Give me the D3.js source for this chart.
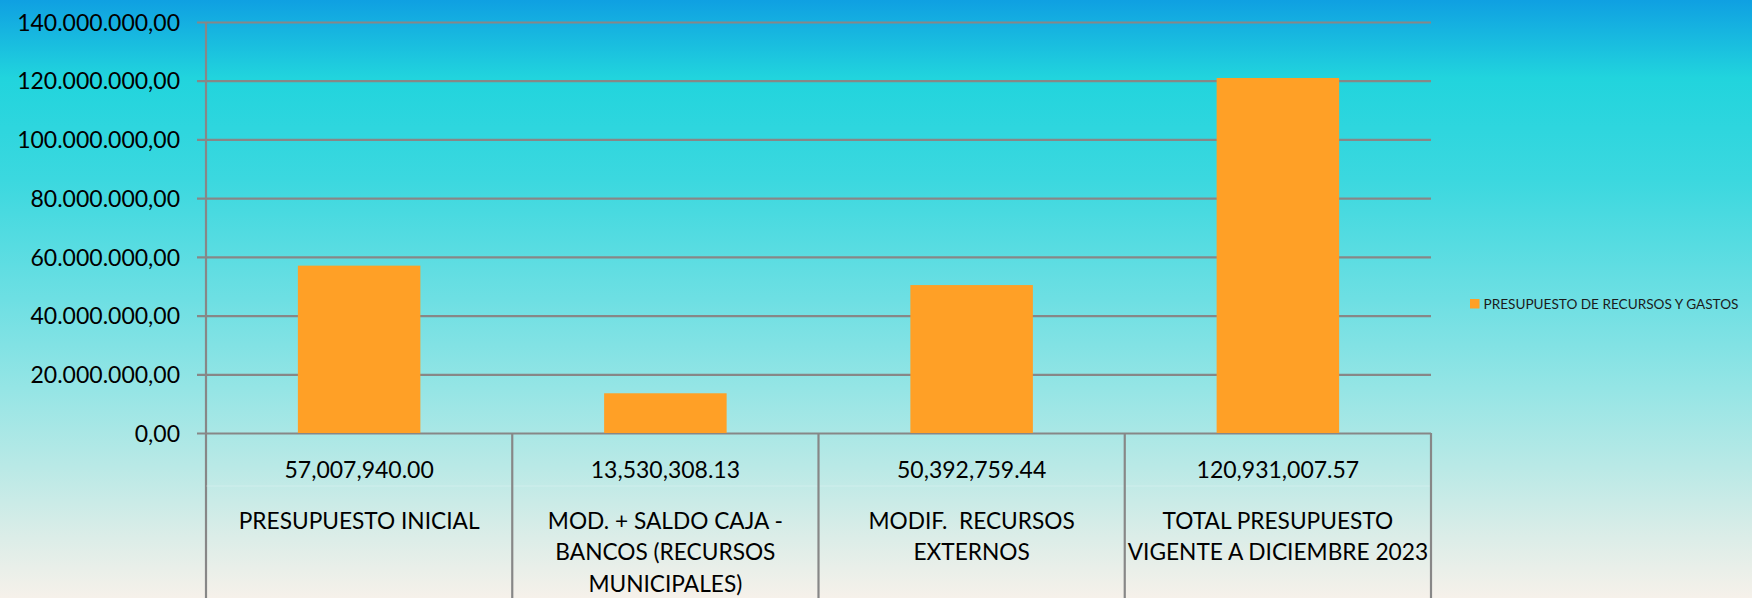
<!DOCTYPE html>
<html>
<head>
<meta charset="utf-8">
<title>Presupuesto de recursos y gastos</title>
<script src="https://d3js.org/d3.v7.min.js"></script>
<style>
  html, body { margin: 0; padding: 0; overflow: hidden; }
  text { font-family: Lato, "Open Sans", sans-serif; }
</style>
</head>
<body>
<div id="chart"></div>
<script>
// data
const categories = ["PRESUPUESTO INICIAL", "MOD. + SALDO CAJA - BANCOS (RECURSOS MUNICIPALES)", "MODIF.  RECURSOS EXTERNOS", "TOTAL PRESUPUESTO VIGENTE A DICIEMBRE 2023"];
const categoryLines = [
  ["PRESUPUESTO INICIAL"],
  ["MOD. + SALDO CAJA -", "BANCOS (RECURSOS", "MUNICIPALES)"],
  ["MODIF.  RECURSOS", "EXTERNOS"],
  ["TOTAL PRESUPUESTO", "VIGENTE A DICIEMBRE 2023"]
];
const values = [57007940.00, 13530308.13, 50392759.44, 120931007.57];
const yTicks = [0, 20000000, 40000000, 60000000, 80000000, 100000000, 120000000, 140000000];
const seriesName = "PRESUPUESTO DE RECURSOS Y GASTOS";

const W = 1752, H = 598;
const margin = {top: 22, right: 321, bottom: 165, left: 206};
const width = W - margin.left - margin.right,
      height = H - margin.top - margin.bottom;

const svg = d3.select("#chart").append("svg")
  .attr("width", W).attr("height", H);

// background gradient
const grad = svg.append("defs").append("linearGradient")
  .attr("id", "bg").attr("x1", 0).attr("y1", 0).attr("x2", 0).attr("y2", 1);
[[0, "#0fa0e2"], [0.13, "#21d4dd"], [0.3, "#3bd8df"], [0.5, "#6ddfe3"], [0.65, "#95e5e5"],
 [0.78, "#b9e9e6"], [0.9, "#dcede8"], [1, "#f6f1ea"]].forEach(s => {
  grad.append("stop").attr("offset", s[0]).attr("stop-color", s[1]);
});
svg.append("rect").attr("width", W).attr("height", H).attr("fill", "url(#bg)");

const g = svg.append("g").attr("transform", `translate(${margin.left},${margin.top})`);

const x = d3.scaleBand().domain(categories).range([0, width]).paddingInner(0.6).paddingOuter(0.3);
const y = d3.scaleLinear().domain([0, 140000000]).range([height, 0]);

const esFmt = d3.formatLocale({decimal: ",", thousands: ".", grouping: [3], currency: ["", ""]}).format(",.2f");
const enFmt = d3.format(",.2f");
const gridColor = "#878787";

// gridlines + y axis
const yAxis = g.append("g")
  .call(d3.axisLeft(y).tickValues(yTicks).tickFormat(esFmt).tickSize(-width).tickPadding(17));
yAxis.select(".domain").remove();
yAxis.selectAll(".tick line")
  .attr("x1", -9).attr("x2", width)
  .attr("stroke", gridColor).attr("stroke-width", 2.2);
yAxis.selectAll(".tick text")
  .attr("x", -26).attr("dy", "0.36em")
  .attr("font-size", 23).attr("fill", "#000");

// bars
g.append("g").selectAll("rect")
  .data(values)
  .join("rect")
    .attr("x", (d, i) => x(categories[i]))
    .attr("y", d => y(d))
    .attr("width", x.bandwidth())
    .attr("height", d => y(0) - y(d))
    .attr("fill", "#ffa026");

// vertical axis line (runs through table)
g.append("line")
  .attr("x1", 0).attr("x2", 0).attr("y1", 0).attr("y2", H - margin.top)
  .attr("stroke", gridColor).attr("stroke-width", 2.2);

// data table under the axis
const step = x.step();
const table = g.append("g").attr("transform", `translate(0,${height})`);
table.append("line")
  .attr("x1", 0).attr("x2", width).attr("y1", 53).attr("y2", 53)
  .attr("stroke", "#ffffff").attr("stroke-opacity", 0.25).attr("stroke-width", 1);
table.selectAll("line.sep")
  .data(categories)
  .join("line")
    .attr("class", "sep")
    .attr("x1", (d, i) => (i + 1) * step).attr("x2", (d, i) => (i + 1) * step)
    .attr("y1", 0).attr("y2", margin.bottom)
    .attr("stroke", gridColor).attr("stroke-width", 2.2);

const cells = table.selectAll("g.cell")
  .data(categories)
  .join("g")
    .attr("class", "cell")
    .attr("transform", d => `translate(${x(d) + x.bandwidth() / 2},0)`);

cells.append("text")
  .attr("text-anchor", "middle")
  .attr("y", 44.5)
  .attr("font-size", 23)
  .attr("fill", "#000")
  .text((d, i) => enFmt(values[i]));

cells.each(function(d, i) {
  d3.select(this).selectAll("text.lab")
    .data(categoryLines[i])
    .join("text")
      .attr("class", "lab")
      .attr("text-anchor", "middle")
      .attr("y", (t, j) => 95.5 + j * 31.8)
      .attr("font-size", 22.7)
      .attr("fill", "#000")
      .style("white-space", "pre")
      .text(t => t);
});

// legend
const legend = svg.append("g").attr("transform", "translate(1470,299)");
legend.append("rect").attr("width", 9.5).attr("height", 9.5).attr("fill", "#ffa026");
legend.append("text")
  .attr("x", 13.5).attr("y", 10)
  .attr("font-size", 13.6)
  .attr("fill", "#1b1b1b")
  .text(seriesName);
</script>
</body>
</html>
